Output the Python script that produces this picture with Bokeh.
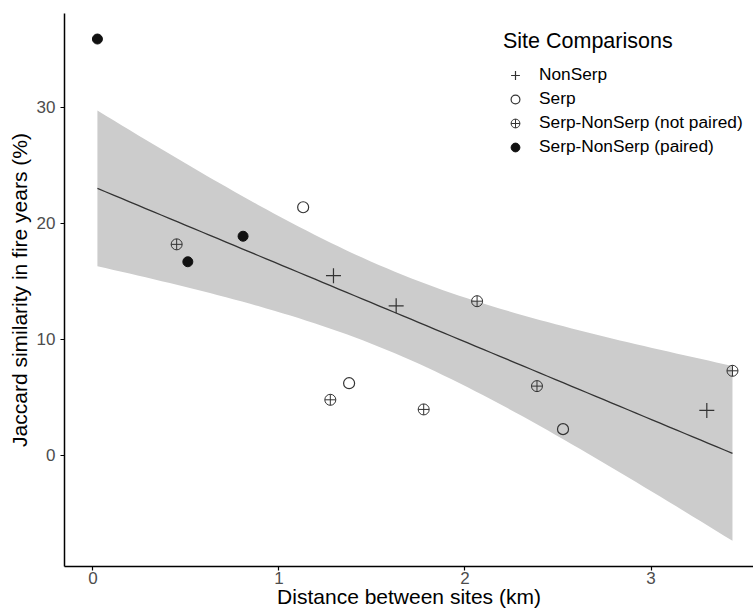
import numpy as np
from bokeh.plotting import figure
from bokeh.models import Range1d, FixedTicker, Legend, LegendItem
from bokeh.embed import file_html
from bokeh.resources import INLINE

# ---- data ----
nonserp_x = [1.293, 1.63, 3.30]
nonserp_y = [15.5, 12.9, 3.88]
serp_x = [1.13, 1.377, 2.527]
serp_y = [21.4, 6.23, 2.27]
notpaired_x = [0.45, 1.276, 1.778, 2.065, 2.387, 3.438]
notpaired_y = [18.2, 4.8, 3.97, 13.3, 5.98, 7.3]
paired_x = [0.024, 0.51, 0.807]
paired_y = [35.9, 16.7, 18.9]
x_ticks = [0, 1, 2, 3]
y_ticks = [0, 10, 20, 30]
legend_labels = ["NonSerp", "Serp", "Serp-NonSerp (not paired)", "Serp-NonSerp (paired)"]

# ---- linear fit with 95% confidence band (lm) ----
all_x = np.array(nonserp_x + serp_x + notpaired_x + paired_x)
all_y = np.array(nonserp_y + serp_y + notpaired_y + paired_y)
n = len(all_x)
slope, intercept = np.polyfit(all_x, all_y, 1)
resid = all_y - (slope * all_x + intercept)
s = np.sqrt(np.sum(resid ** 2) / (n - 2))
sxx = np.sum((all_x - all_x.mean()) ** 2)
t_crit = 2.160  # t(0.975, df=13)
gx = np.linspace(all_x.min(), all_x.max(), 80)
gy = slope * gx + intercept
se = s * np.sqrt(1.0 / n + (gx - all_x.mean()) ** 2 / sxx)
lo = gy - t_crit * se
hi = gy + t_crit * se

FONT = "Liberation Sans"

p = figure(width=753, height=614, output_backend="svg", toolbar_location=None,
           x_range=Range1d(-0.153, 3.551), y_range=Range1d(-9.57, 38.1),
           min_border_left=64, min_border_right=0, min_border_top=13, min_border_bottom=48)
p.outline_line_color = None
p.grid.visible = False
p.background_fill_color = "white"
p.border_fill_color = "white"

p.varea(x=gx, y1=lo, y2=hi, fill_color="#cccccc", fill_alpha=1.0)
p.line(gx, gy, line_color="#333333", line_width=1.3)

r1 = p.scatter(nonserp_x, nonserp_y, marker="cross", size=15, line_color="#333333", line_width=1.2)
r2 = p.scatter(serp_x, serp_y, marker="circle", size=11, line_color="#333333", fill_color=None, line_width=1.2)
r3 = p.scatter(notpaired_x, notpaired_y, marker="circle_cross", size=11, line_color="#333333", fill_color=None, line_width=1.0)
r4 = p.scatter(paired_x, paired_y, marker="circle", size=10, line_color="#111111", fill_color="#111111")

legend = Legend(items=[LegendItem(label=legend_labels[0], renderers=[r1]),
                       LegendItem(label=legend_labels[1], renderers=[r2]),
                       LegendItem(label=legend_labels[2], renderers=[r3]),
                       LegendItem(label=legend_labels[3], renderers=[r4])],
                location=(439, 408), title="Site Comparisons")
legend.title_text_font = FONT
legend.title_text_font_size = "21.5px"
legend.title_text_font_style = "normal"
legend.title_text_color = "black"
legend.title_standoff = 9
legend.label_text_font = FONT
legend.label_text_font_size = "17.3px"
legend.label_text_color = "black"
legend.label_standoff = 12
legend.glyph_width = 24
legend.glyph_height = 22
legend.label_height = 23
legend.spacing = 1
legend.padding = 0
legend.margin = 0
legend.border_line_color = None
legend.background_fill_alpha = 0
p.add_layout(legend)

for ax in (p.xaxis, p.yaxis):
    ax.axis_line_color = "black"
    ax.axis_line_width = 1.5
    ax.major_tick_line_color = "black"
    ax.major_tick_line_width = 1.2
    ax.major_tick_out = 4
    ax.major_tick_in = 0
    ax.minor_tick_line_color = None
    ax.major_label_text_font = FONT
    ax.major_label_text_font_size = "17px"
    ax.major_label_text_color = "#4d4d4d"
    ax.axis_label_text_font = FONT
    ax.axis_label_text_font_size = "21px"
    ax.axis_label_text_font_style = "normal"
    ax.axis_label_text_color = "black"

p.xaxis.ticker = FixedTicker(ticks=x_ticks)
p.yaxis.ticker = FixedTicker(ticks=y_ticks)
p.xaxis.axis_label = "Distance between sites (km)"
p.yaxis.axis_label = "Jaccard similarity in fire years (%)"
p.xaxis.major_label_standoff = 1
p.xaxis.axis_label_standoff = -2
p.yaxis.major_label_standoff = 5
p.yaxis.axis_label_standoff = 3

open("out.html", "w").write(file_html(p, INLINE))
